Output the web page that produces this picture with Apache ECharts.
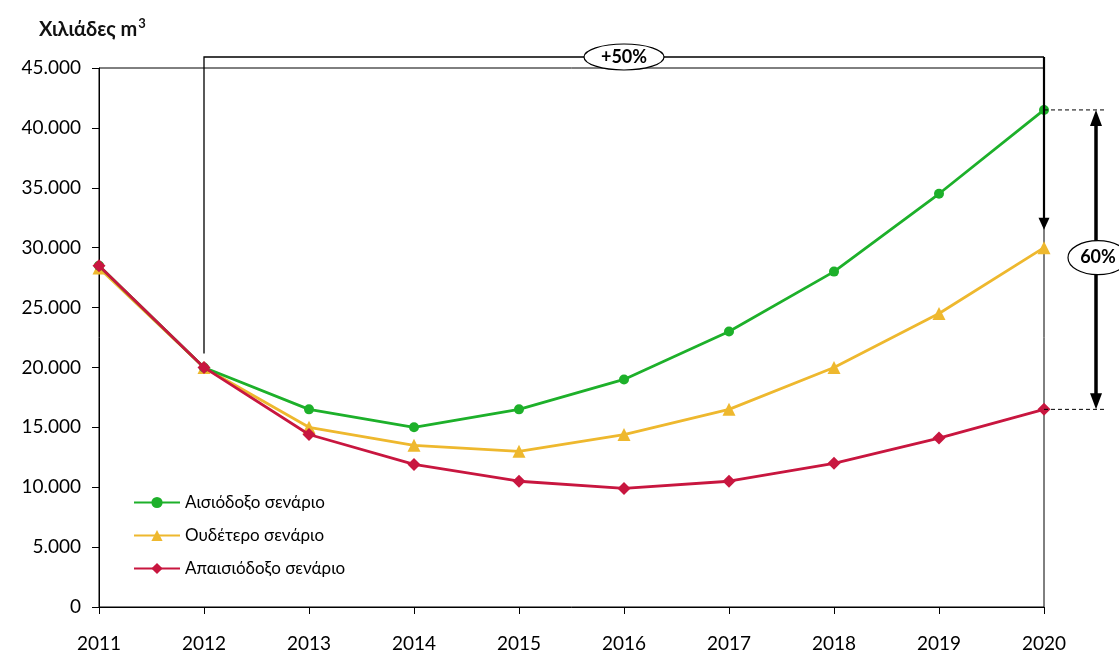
<!DOCTYPE html>
<html lang="el">
<head>
<meta charset="UTF-8">
<title>Χιλιάδες m3</title>
<script src="https://cdn.jsdelivr.net/npm/echarts@6/dist/echarts.min.js"></script>
<style>
  body { margin: 0; background: #fff; }
  #main { width: 1119px; height: 655px; }
</style>
</head>
<body>
<div id="main"></div>
<script>
var years = ['2011', '2012', '2013', '2014', '2015', '2016', '2017', '2018', '2019', '2020'];
var optimistic = [28500, 20000, 16500, 15000, 16500, 19000, 23000, 28000, 34500, 41500];
var neutral = [28300, 20000, 15000, 13500, 13000, 14400, 16500, 20000, 24500, 30000];
var pessimistic = [28500, 20000, 14400, 11900, 10500, 9900, 10500, 12000, 14100, 16500];
var seriesNames = ['Αισιόδοξο σενάριο', 'Ουδέτερο σενάριο', 'Απαισιόδοξο σενάριο'];
var growthLabel = '+50%';
var gapLabel = '60%';

var font = 'Lato, "Noto Sans", sans-serif';
var txt = '#000';

function thousands(v) {
  return String(v).replace(/\B(?=(\d{3})+(?!\d))/g, '.');
}

var chart = echarts.init(document.getElementById('main'));
chart.setOption({
  animation: false,
  textStyle: { fontFamily: font },
  title: {
    text: '{a|Χιλιάδες m}{s|3}',
    left: 34, top: 12,
    textStyle: {
      rich: {
        a: { fontSize: 20, fontWeight: 'bold', color: '#111', fontFamily: font },
        s: { fontSize: 13, fontWeight: 'bold', color: '#111', fontFamily: font, padding: [0, 0, 12, 1] }
      }
    }
  },
  grid: {
    left: 99, right: 75, top: 68, bottom: 48,
    show: true, borderColor: '#000', borderWidth: 1
  },
  legend: {
    orient: 'vertical',
    left: 128, top: 489,
    itemWidth: 46, itemHeight: 14, itemGap: 16,
    textStyle: { fontSize: 17, color: txt, fontFamily: font },
    data: seriesNames
  },
  xAxis: {
    type: 'category',
    data: years,
    boundaryGap: false,
    axisLine: { lineStyle: { color: '#000', width: 1 } },
    axisTick: { show: true, length: 7, alignWithLabel: true, lineStyle: { color: '#000' } },
    axisLabel: { fontSize: 19, color: txt, margin: 27 },
    splitLine: { show: false }
  },
  yAxis: {
    type: 'value',
    min: 0, max: 45000, interval: 5000,
    axisLine: { show: true, lineStyle: { color: '#000', width: 1 } },
    axisTick: { show: true, length: 7, lineStyle: { color: '#000' } },
    axisLabel: { fontSize: 19, color: txt, margin: 18, formatter: thousands },
    splitLine: { show: false }
  },
  series: [
    {
      name: seriesNames[0], type: 'line', data: optimistic,
      symbol: 'circle', symbolSize: 10,
      itemStyle: { color: '#1db02a' },
      lineStyle: { width: 2.8, color: '#1db02a' },
      z: 3
    },
    {
      name: seriesNames[1], type: 'line', data: neutral,
      symbol: 'triangle', symbolSize: 13,
      itemStyle: { color: '#eeb82e' },
      lineStyle: { width: 2.8, color: '#eeb82e' },
      z: 2
    },
    {
      name: seriesNames[2], type: 'line', data: pessimistic,
      symbol: 'diamond', symbolSize: 13,
      itemStyle: { color: '#c8163f' },
      lineStyle: { width: 2.8, color: '#c8163f' },
      z: 4
    }
  ]
});

// annotations placed through the chart's own scales
(function () {
  function px(cat, val) {
    return chart.convertToPixel({ gridIndex: 0 }, [cat, val]);
  }
  var last = years.length - 1;
  var p12 = px(years[1], optimistic[1]);
  var topY = px(years[0], 45000)[1] - 11;
  var pHi = px(years[last], optimistic[last]);
  var pMid = px(years[last], neutral[last]);
  var pLo = px(years[last], pessimistic[last]);
  var xArr = pHi[0] + 52;
  var midX = (p12[0] + pHi[0]) / 2;

  function arrowHead(x, y, dir, w, h) {
    return { type: 'polygon', z: 100,
      shape: { points: [[x, y], [x - w / 2, y - dir * h], [x + w / 2, y - dir * h]] },
      style: { fill: '#000' } };
  }

  chart.setOption({
    graphic: [
      { type: 'polyline', z: 90,
        shape: { points: [[p12[0], p12[1] - 14], [p12[0], topY], [pHi[0], topY]] },
        style: { stroke: '#000', lineWidth: 1.3, fill: null } },
      { type: 'line', z: 90,
        shape: { x1: pHi[0], y1: topY, x2: pHi[0], y2: pMid[1] - 26 },
        style: { stroke: '#000', lineWidth: 2.2 } },
      arrowHead(pHi[0], pMid[1] - 18, 1, 11, 12),
      { type: 'ellipse', z: 95,
        shape: { cx: midX, cy: topY, rx: 40, ry: 13 },
        style: { fill: '#fff', stroke: '#000', lineWidth: 1.2 } },
      { type: 'text', z: 96, x: midX, y: topY,
        style: { text: growthLabel, fill: '#000', font: 'bold 18px ' + font, align: 'center', verticalAlign: 'middle' } },
      { type: 'line', z: 90,
        shape: { x1: pHi[0], y1: pHi[1], x2: xArr + 9, y2: pHi[1] },
        style: { stroke: '#000', lineWidth: 1, lineDash: [4, 3] } },
      { type: 'line', z: 90,
        shape: { x1: pLo[0], y1: pLo[1], x2: xArr + 9, y2: pLo[1] },
        style: { stroke: '#000', lineWidth: 1, lineDash: [4, 3] } },
      { type: 'line', z: 90,
        shape: { x1: xArr, y1: pHi[1] + 12, x2: xArr, y2: pLo[1] - 12 },
        style: { stroke: '#000', lineWidth: 3.5 } },
      arrowHead(xArr, pHi[1], -1, 12, 16),
      arrowHead(xArr, pLo[1], 1, 12, 16),
      { type: 'ellipse', z: 95,
        shape: { cx: xArr + 2, cy: pMid[1] + 10, rx: 30, ry: 17 },
        style: { fill: '#fff', stroke: '#000', lineWidth: 1.2 } },
      { type: 'text', z: 96, x: xArr + 2, y: pMid[1] + 10,
        style: { text: gapLabel, fill: '#000', font: 'bold 18px ' + font, align: 'center', verticalAlign: 'middle' } }
    ]
  });
})();
</script>
</body>
</html>
